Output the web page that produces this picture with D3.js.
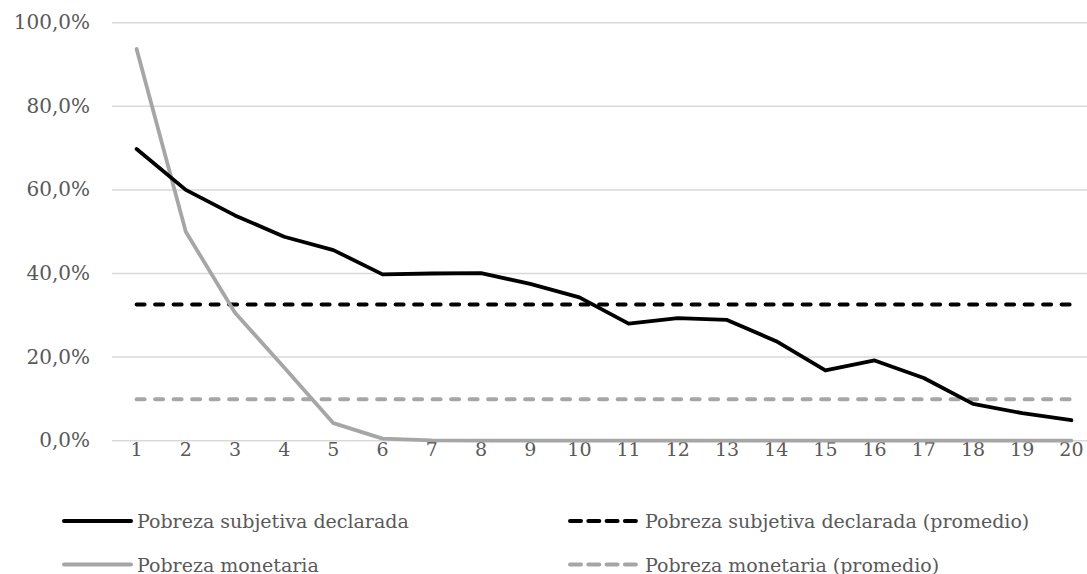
<!DOCTYPE html>
<html>
<head>
<meta charset="utf-8">
<script src="https://cdn.jsdelivr.net/npm/d3@7"></script>
<style>
  html, body { margin: 0; padding: 0; background: #fff; }
  svg { display: block; }
  text { font-family: "DejaVu Serif", "Liberation Serif", serif; fill: #595959; }
</style>
</head>
<body>
<svg id="chart" width="1087" height="574"></svg>
<script>
// Groups on the horizontal axis
const categories = d3.range(1, 21).map(String);

// Share of households in poverty by group
const subjetiva = [0.698, 0.600, 0.539, 0.488, 0.456, 0.398, 0.400, 0.401, 0.375, 0.343,
                   0.280, 0.293, 0.289, 0.238, 0.168, 0.192, 0.150, 0.088, 0.066, 0.049];
const monetaria = [0.937, 0.500, 0.306, 0.175, 0.042, 0.005, 0.001, 0, 0, 0,
                   0, 0, 0, 0, 0, 0, 0, 0, 0, 0];

// Averages across all groups
const subjetivaPromedio = 0.326;
const monetariaPromedio = 0.099;

const yTicks = [0, 0.2, 0.4, 0.6, 0.8, 1.0];

const legendLabels = [
  "Pobreza subjetiva declarada",
  "Pobreza subjetiva declarada (promedio)",
  "Pobreza monetaria",
  "Pobreza monetaria (promedio)"
];

const BLACK = "#000000";
const GREY = "#a6a6a6";
const FONT_SIZE = 19;
const PLOT_DASH = "8 10.5";
const LEGEND_DASH = "11 7.3";

const svg = d3.select("#chart");

const x = d3.scalePoint().domain(categories).range([112, 1096]).padding(0.5);
const y = d3.scaleLinear().domain([0, 1]).range([440.7, 22.7]);

const fmt = v => d3.format(".1f")(v * 100).replace(".", ",") + "%";

// Horizontal gridlines
svg.append("g")
  .selectAll("line")
  .data(yTicks)
  .join("line")
  .attr("x1", 112).attr("x2", 1096)
  .attr("y1", d => y(d)).attr("y2", d => y(d))
  .attr("stroke", "#d9d9d9").attr("stroke-width", 1.5);

// Y axis labels
svg.append("g")
  .selectAll("text")
  .data(yTicks)
  .join("text")
  .attr("x", 90)
  .attr("y", d => y(d) + 6.5)
  .attr("text-anchor", "end")
  .attr("font-size", 20)
  .text(fmt);

// X axis labels
svg.append("g")
  .selectAll("text")
  .data(categories)
  .join("text")
  .attr("x", d => x(d))
  .attr("y", 456)
  .attr("text-anchor", "middle")
  .attr("font-size", FONT_SIZE)
  .text(d => d);

const line = d3.line()
  .x((d, i) => x(categories[i]))
  .y(d => y(d));

// Average reference lines
const avgLine = v => line(categories.map(() => v));

svg.append("path")
  .attr("d", avgLine(monetariaPromedio))
  .attr("fill", "none").attr("stroke", GREY)
  .attr("stroke-width", 4).attr("stroke-linecap", "round")
  .attr("stroke-dasharray", PLOT_DASH);

svg.append("path")
  .attr("d", avgLine(subjetivaPromedio))
  .attr("fill", "none").attr("stroke", BLACK)
  .attr("stroke-width", 4).attr("stroke-linecap", "round")
  .attr("stroke-dasharray", PLOT_DASH);

// Series lines
svg.append("path")
  .attr("d", line(monetaria))
  .attr("fill", "none").attr("stroke", GREY)
  .attr("stroke-width", 3.8).attr("stroke-linejoin", "round").attr("stroke-linecap", "round");

svg.append("path")
  .attr("d", line(subjetiva))
  .attr("fill", "none").attr("stroke", BLACK)
  .attr("stroke-width", 3.8).attr("stroke-linejoin", "round").attr("stroke-linecap", "round");

// Legend
const legendItems = [
  { label: legendLabels[0], color: BLACK, dash: null, x1: 64, x2: 131, tx: 137, y: 521 },
  { label: legendLabels[1], color: BLACK, dash: LEGEND_DASH, x1: 570, x2: 636, tx: 645, y: 521 },
  { label: legendLabels[2], color: GREY, dash: null, x1: 64, x2: 131, tx: 137, y: 564.5 },
  { label: legendLabels[3], color: GREY, dash: LEGEND_DASH, x1: 570, x2: 636, tx: 645, y: 564.5 }
];

const lg = svg.append("g")
  .selectAll("g")
  .data(legendItems)
  .join("g");

lg.append("line")
  .attr("x1", d => d.x1).attr("x2", d => d.x2)
  .attr("y1", d => d.y).attr("y2", d => d.y)
  .attr("stroke", d => d.color)
  .attr("stroke-width", 4)
  .attr("stroke-linecap", "round")
  .attr("stroke-dasharray", d => d.dash);

lg.append("text")
  .attr("x", d => d.tx)
  .attr("y", d => d.y + 7)
  .attr("font-size", FONT_SIZE)
  .text(d => d.label);
</script>
</body>
</html>
